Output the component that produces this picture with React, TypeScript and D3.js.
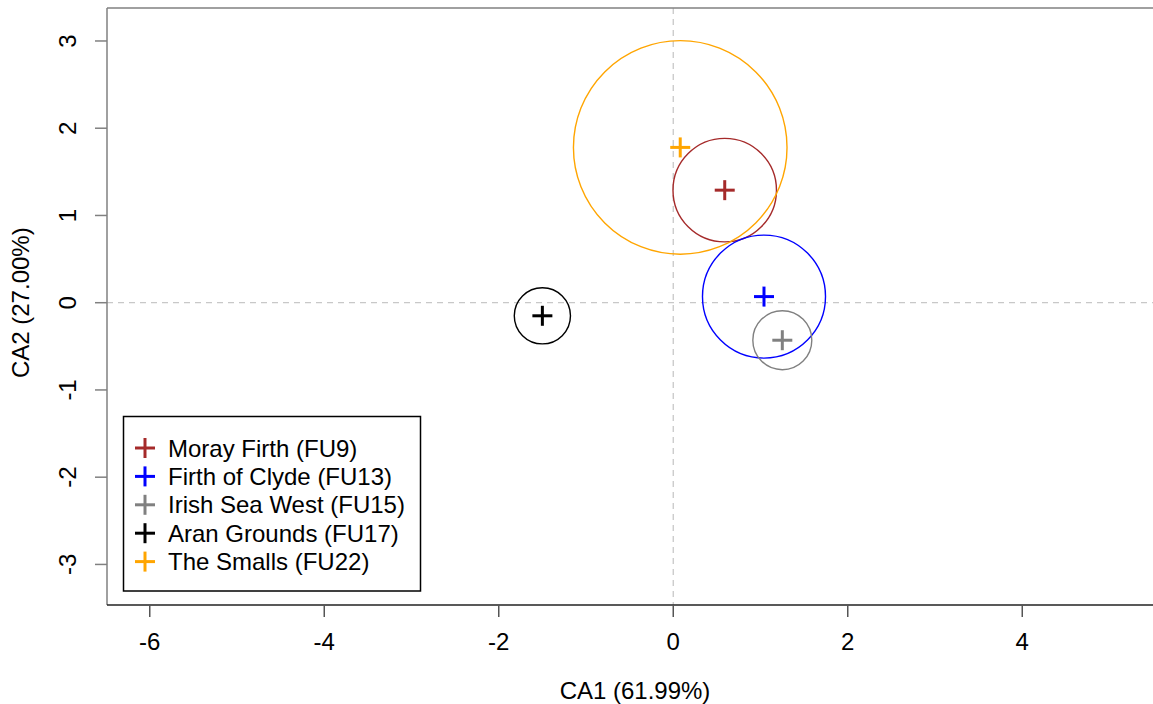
import React from "react";
import { scaleLinear } from "d3";

const regions = [
  "Moray Firth (FU9)",
  "Firth of Clyde (FU13)",
  "Irish Sea West (FU15)",
  "Aran Grounds (FU17)",
  "The Smalls (FU22)",
];
const ca1 = [0.59, 1.04, 1.25, -1.5, 0.08];
const ca2 = [1.29, 0.07, -0.43, -0.15, 1.78];
const radius = [0.593, 0.705, 0.338, 0.322, 1.224];
const colors = ["#A52A2A", "#0000FF", "#808080", "#000000", "#FFA500"];

const xTicks = [-6, -4, -2, 0, 2, 4];
const yTicks = [-3, -2, -1, 0, 1, 2, 3];

const W = 1153;
const H = 704;
const FONT = "'Liberation Sans', Arial, sans-serif";

const App = () => {
  const left = 107;
  const top = 8;
  const bottom = 605;
  const unit = 87.25;
  const xDom = [-6.49, 5.7];
  const yDom = [-3.465, 3.378];

  const x = scaleLinear()
    .domain(xDom)
    .range([left, left + (xDom[1] - xDom[0]) * unit]);
  const y = scaleLinear().domain(yDom).range([bottom, top]);
  const right = x(xDom[1]);
  const arm = 10;

  return (
    <svg
      width={W}
      height={H}
      style={{ position: "absolute", left: 0, top: 0, background: "#fff" }}
      fontFamily={FONT}
    >
      {/* reference lines */}
      <line x1={x(0)} x2={x(0)} y1={top} y2={bottom} stroke="#c8c8c8" strokeWidth={1.3} strokeDasharray="6,5" />
      <line x1={left} x2={right} y1={y(0)} y2={y(0)} stroke="#c8c8c8" strokeWidth={1.3} strokeDasharray="6,5" />

      {/* circles and points */}
      {regions.map((r, i) => {
        const cx = x(ca1[i]);
        const cy = y(ca2[i]);
        const rad = x(ca1[i] + radius[i]) - cx;
        return (
          <g key={r}>
            <circle cx={cx} cy={cy} r={rad} fill="none" stroke={colors[i]} strokeWidth={1.4} />
            <line x1={cx - arm} x2={cx + arm} y1={cy} y2={cy} stroke={colors[i]} strokeWidth={3} />
            <line x1={cx} x2={cx} y1={cy - arm} y2={cy + arm} stroke={colors[i]} strokeWidth={3} />
          </g>
        );
      })}

      {/* frame */}
      <line x1={left} x2={right} y1={top} y2={top} stroke="#808080" strokeWidth={1.5} />
      <line x1={left} x2={left} y1={top} y2={bottom} stroke="#808080" strokeWidth={1.5} />
      <line x1={left} x2={right} y1={bottom} y2={bottom} stroke="#222" strokeWidth={1.5} />

      {/* x axis */}
      {xTicks.map((t) => (
        <g key={t}>
          <line x1={x(t)} x2={x(t)} y1={bottom} y2={bottom + 12} stroke="#555" strokeWidth={1.5} />
          <text x={x(t)} y={bottom + 45} textAnchor="middle" fontSize={24} fill="#000">
            {t}
          </text>
        </g>
      ))}
      <text x={635} y={699} textAnchor="middle" fontSize={24} fill="#000">
        CA1 (61.99%)
      </text>

      {/* y axis */}
      {yTicks.map((t) => (
        <g key={t}>
          <line x1={left - 12} x2={left} y1={y(t)} y2={y(t)} stroke="#808080" strokeWidth={1.5} />
          <text
            transform={`translate(${left - 31},${y(t)}) rotate(-90)`}
            textAnchor="middle"
            fontSize={24}
            fill="#000"
          >
            {t}
          </text>
        </g>
      ))}
      <text
        transform={`translate(29,${y(0)}) rotate(-90)`}
        textAnchor="middle"
        fontSize={24}
        fill="#000"
      >
        CA2 (27.00%)
      </text>

      {/* legend */}
      <rect x={123.5} y={416.5} width={297} height={174.5} fill="#fff" stroke="#000" strokeWidth={1.5} />
      {regions.map((r, i) => {
        const ly = 448 + i * 28.4;
        return (
          <g key={"leg" + r}>
            <line x1={145 - arm} x2={145 + arm} y1={ly} y2={ly} stroke={colors[i]} strokeWidth={3} />
            <line x1={145} x2={145} y1={ly - arm} y2={ly + arm} stroke={colors[i]} strokeWidth={3} />
            <text x={168} y={ly + 8.5} fontSize={24} fill="#000">
              {r}
            </text>
          </g>
        );
      })}
    </svg>
  );
};

export default App;
